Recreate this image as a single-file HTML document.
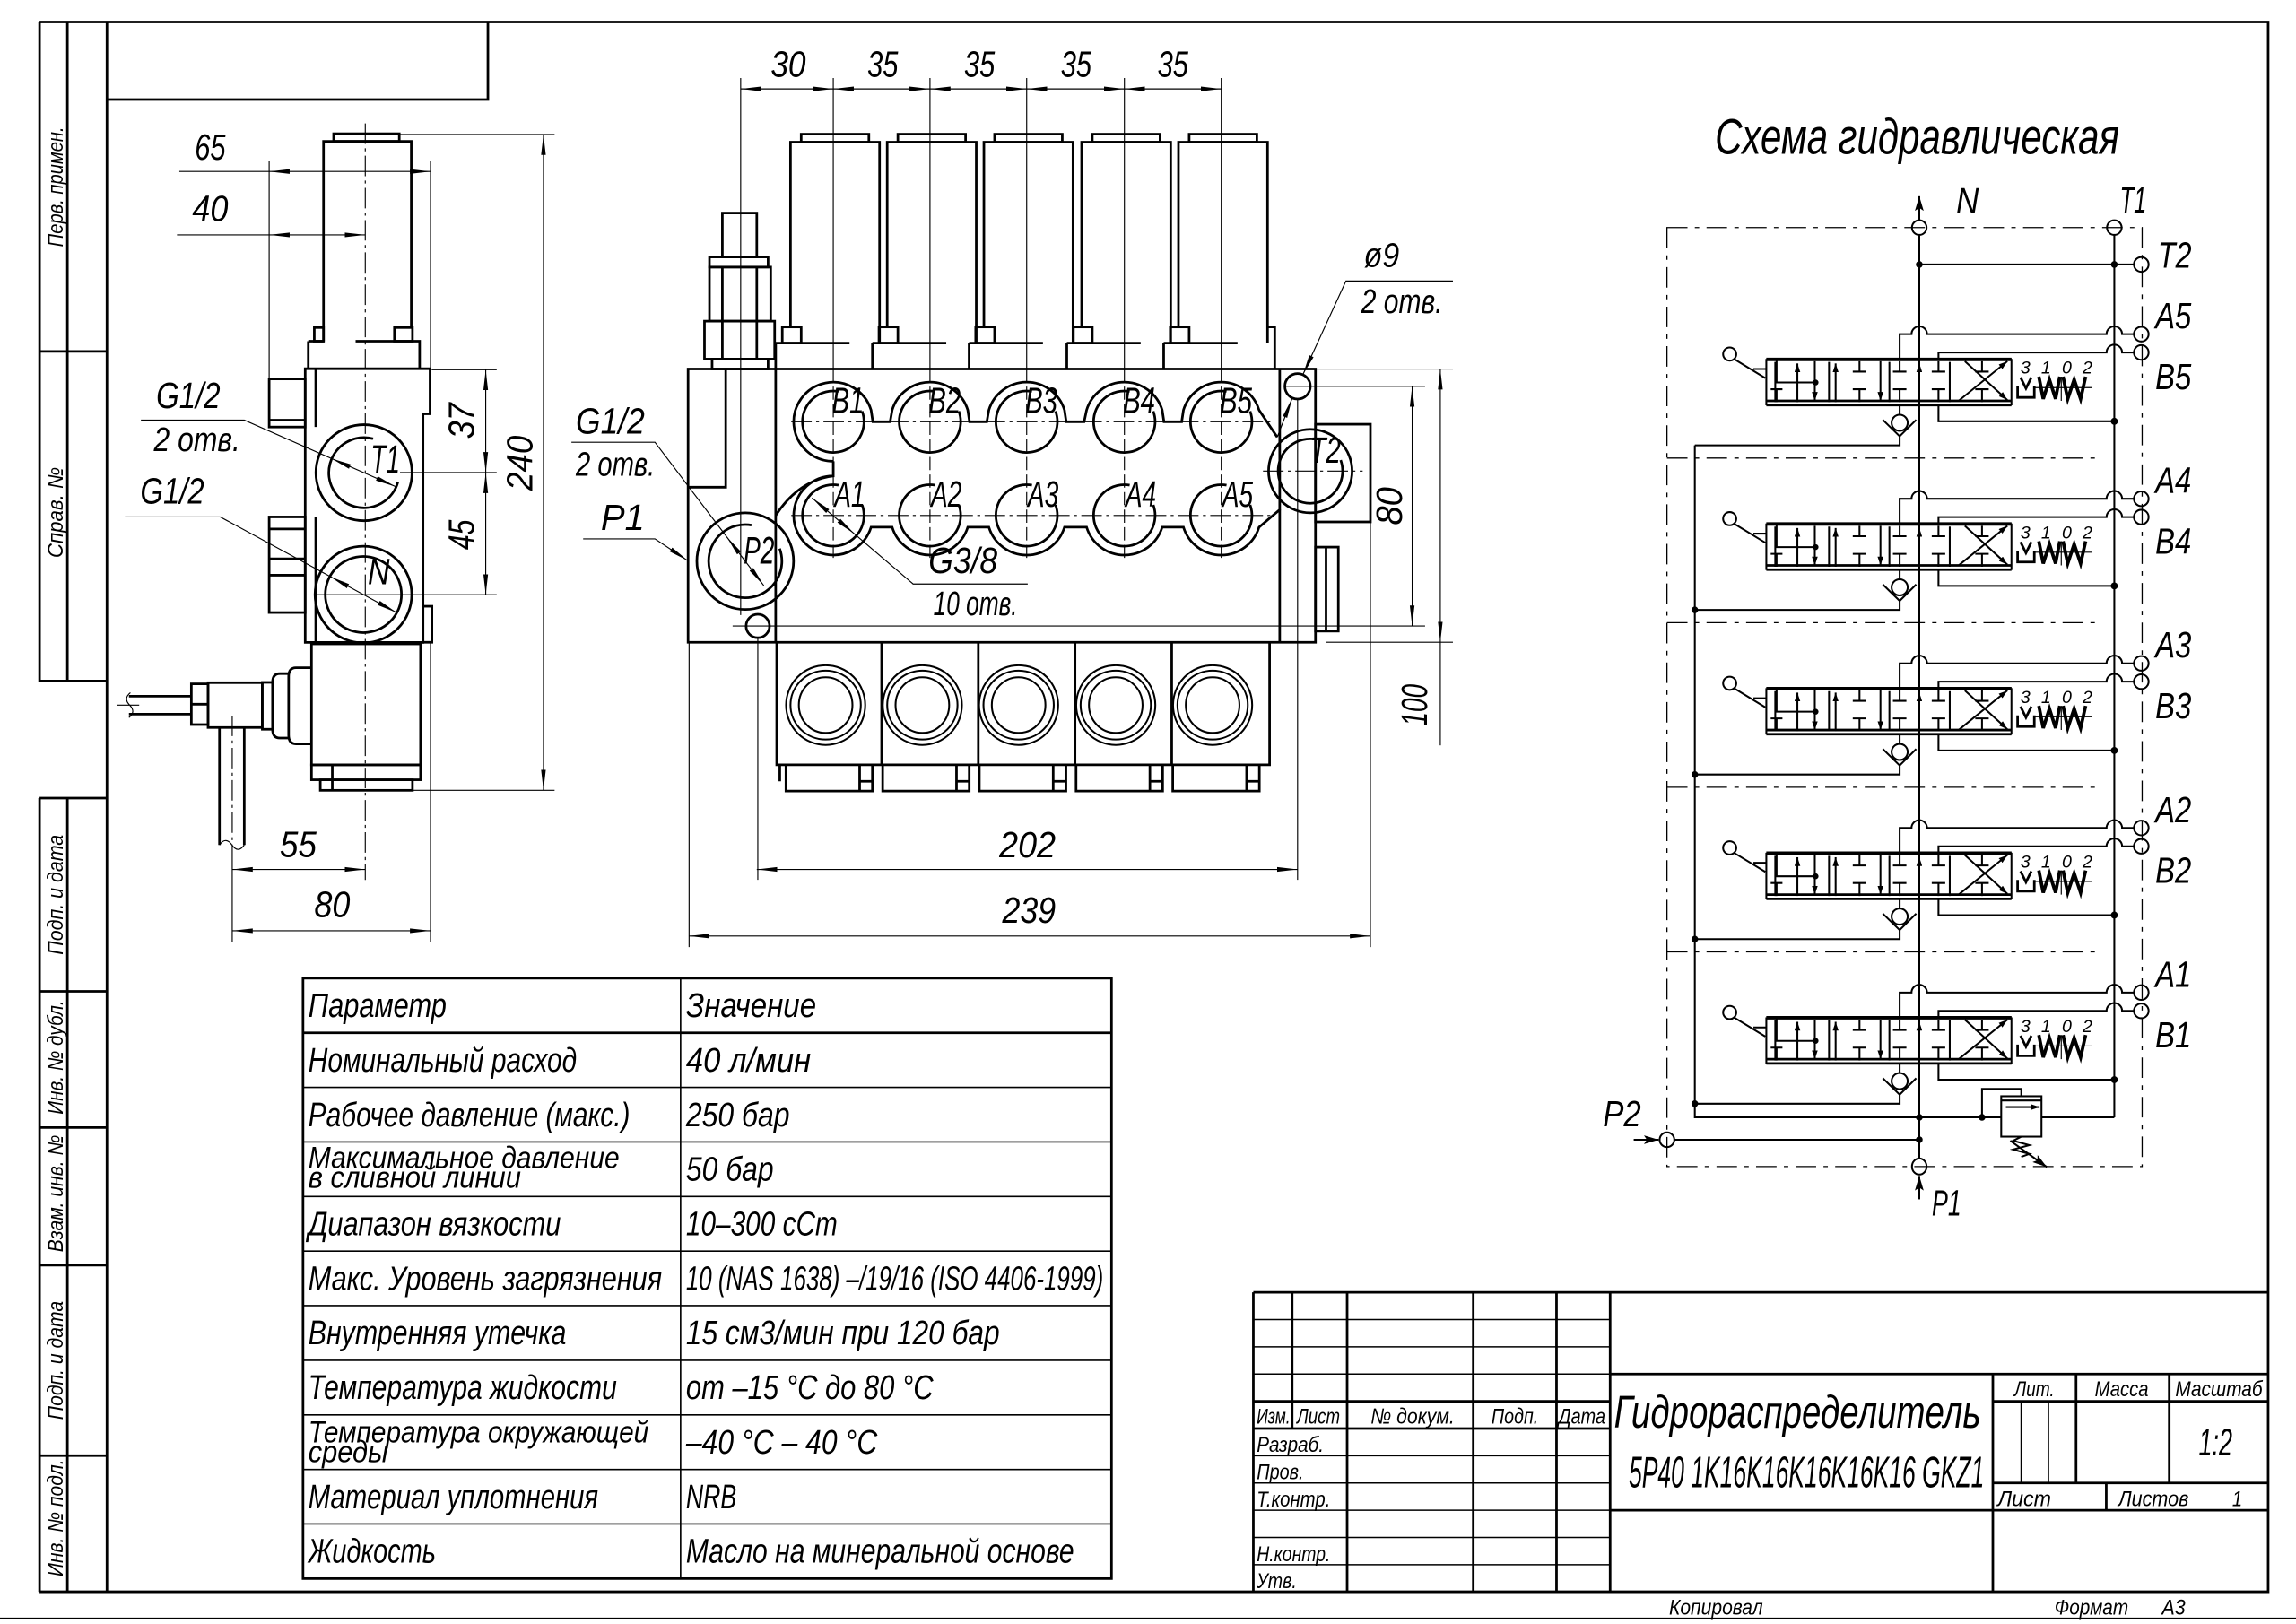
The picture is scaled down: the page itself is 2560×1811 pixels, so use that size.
<!DOCTYPE html>
<html><head><meta charset="utf-8"><style>
html,body{margin:0;padding:0;background:#fff;}
svg{display:block;}
.k{stroke:#000;stroke-width:1.7;fill:none;}
.m{stroke:#000;stroke-width:1.25;fill:none;}
.t{stroke:#000;stroke-width:0.7;fill:none;}
.d{stroke:#000;stroke-width:0.7;fill:none;stroke-dasharray:14 3 2 3;}
.ds{stroke:#000;stroke-width:0.8;fill:none;stroke-dasharray:14 5 3 5;}
.f{fill:#000;stroke:none;}
text{font-family:"Liberation Sans","DejaVu Sans",sans-serif;font-style:italic;fill:#000;stroke:none;}
</style></head><body>
<svg width="2560" height="1811" viewBox="0 0 1567 1109" preserveAspectRatio="none" xmlns="http://www.w3.org/2000/svg">
<defs>
<marker id="ar" viewBox="0 0 14 4" refX="14" refY="2" markerWidth="14" markerHeight="4" markerUnits="userSpaceOnUse" orient="auto-start-reverse"><path d="M0,0.4 L14,2 L0,3.6z" fill="#000"/></marker>
<marker id="sa" viewBox="0 0 6 4" refX="6" refY="2" markerWidth="6" markerHeight="4" markerUnits="userSpaceOnUse" orient="auto"><path d="M0,0 L6,2 L0,4z" fill="#000"/></marker>
<marker id="ba" viewBox="0 0 10 6" refX="10" refY="3" markerWidth="10" markerHeight="6" markerUnits="userSpaceOnUse" orient="auto"><path d="M0,0 L10,3 L0,6 L2,3z" fill="#000"/></marker>
<g id="sec">
  <path class="m" d="M1296.5,16.9 V0 H1304.6 A5.3,5.3 0 0 1 1315.2,0 H1437.7 A5.3,5.3 0 0 1 1448.3,0 H1456.4"/>
  <circle class="m" cx="1461.4" cy="0" r="5" fill="#fff"/>
  <path class="m" d="M1323,16.9 V12.5 H1437.7 A5.3,5.3 0 0 1 1448.3,12.5 H1456.4"/>
  <circle class="m" cx="1461.4" cy="12.5" r="5" fill="#fff"/>
  <path class="k" d="M1205.5,16.9 H1372.8 M1205.5,45.5 H1372.8 M1205.5,48.4 H1372.8"/>
  <path class="k" style="stroke-width:2.2" d="M1205.5,17.3 H1372.8"/>
  <path class="m" d="M1205.5,16.9 V48.6 M1211.6,19 V46.4 M1248.3,19 V46.4 M1289.5,19 V46.4 M1330.7,19 V46.4 M1372.8,16.9 V48.6"/>
  <path class="m" d="M1212.5,18 V33 H1239.1"/>
  <circle class="f" cx="1239.1" cy="33" r="2"/>
  <path class="m" d="M1226.7,46.4 V20" marker-end="url(#sa)"/>
  <path class="m" d="M1238.6,18.5 V45.5" marker-end="url(#sa)"/>
  <path class="m" d="M1208.5,37.6 H1216.5 M1212.5,37.6 V46.4"/>
  <path class="m" d="M1252.8,46.4 V20" marker-end="url(#sa)"/>
  <path class="m" d="M1269.1,18.5 V25.6 M1264.5,25.6 H1273.7 M1264.5,37.6 H1273.7 M1269.1,37.6 V46.4"/>
  <path class="m" d="M1283.4,18.5 V45.5" marker-end="url(#sa)"/>
  <path class="m" d="M1296.5,18.5 V25.6 M1291.9,25.6 H1301.1 M1291.9,37.6 H1301.1 M1296.5,37.6 V46.4"/>
  <path class="m" d="M1323,18.5 V25.6 M1318.4,25.6 H1327.6 M1318.4,37.6 H1327.6 M1323,37.6 V46.4"/>
  <path class="m" d="M1309.9,46.4 V20" marker-end="url(#sa)"/>
  <path class="m" d="M1352.7,18.5 V25.6 M1348.1,25.6 H1357.3 M1348.1,37.6 H1357.3 M1352.7,37.6 V46.4"/>
  <path class="m" d="M1337,45.3 L1370,18.5" marker-end="url(#sa)"/>
  <path class="m" d="M1341,18.5 L1370,45" marker-end="url(#sa)"/>
  <text x="1379" y="27" font-size="12" textLength="49" lengthAdjust="spacing">3  1  0  2</text>
  <path class="k" d="M1377,35.5 V43.2 H1388.4 V35.5"/>
  <path class="k" d="M1379,29.5 L1382.7,37 L1386.4,29.5"/>
  <path class="k" style="stroke-width:2.3" d="M1391.5,29 L1394.5,44.2 L1398.7,31 L1402.9,44.2 L1405.8,29 M1408,29 L1411.2,44.2 L1415.6,31 L1420,44.2 L1423.4,29"/>
  <path class="t" d="M1406.8,29 V45.5 M1389,36.5 H1428"/>
  <circle class="m" cx="1180.5" cy="13.6" r="4.5" fill="#fff"/>
  <path class="m" d="M1183.5,17 L1204.8,30 M1196.7,23.8 H1205.5"/>
  <path class="m" d="M1296.5,48.6 V55"/>
  <circle class="m" cx="1296.5" cy="60.5" r="5.5"/>
  <path class="m" d="M1285,58.5 L1296.5,69.7 L1307.8,58.5"/>
  <path class="m" d="M1296.5,69.5 V75.9 H1156.7"/>
  <path class="m" d="M1323,48.6 V59.5 H1443"/>
  <circle class="f" cx="1443" cy="59.5" r="2.4"/>
</g>
</defs>

<!-- FRAME -->
<path class="k" d="M27,15 H1548 V1087 H27 M73,15 V1087"/>
<path class="k" d="M27,15 V465 H73 M46,15 V465 M27,240 H73"/>
<path class="k" d="M27,545 H73 M27,545 V1087 M46,545 V1087 M27,677 H73 M27,770 H73 M27,864 H73 M27,994 H73"/>
<path class="k" d="M73,68 H333 V15"/>
<path class="t" d="M0,1105 H1567"/>
<text transform="translate(43,127.6) rotate(-90)" text-anchor="middle" font-size="15" textLength="82" lengthAdjust="spacingAndGlyphs">Перв. примен.</text>
<text transform="translate(43,350) rotate(-90)" text-anchor="middle" font-size="15" textLength="62" lengthAdjust="spacingAndGlyphs">Справ. №</text>
<text transform="translate(43,611) rotate(-90)" text-anchor="middle" font-size="15" textLength="82" lengthAdjust="spacingAndGlyphs">Подп. и дата</text>
<text transform="translate(43,722) rotate(-90)" text-anchor="middle" font-size="15" textLength="78" lengthAdjust="spacingAndGlyphs">Инв. № дубл.</text>
<text transform="translate(43,815) rotate(-90)" text-anchor="middle" font-size="15" textLength="80" lengthAdjust="spacingAndGlyphs">Взам. инв. №</text>
<text transform="translate(43,929) rotate(-90)" text-anchor="middle" font-size="15" textLength="81" lengthAdjust="spacingAndGlyphs">Подп. и дата</text>
<text transform="translate(43,1036.6) rotate(-90)" text-anchor="middle" font-size="15" textLength="80" lengthAdjust="spacingAndGlyphs">Инв. № подл.</text>

<!-- SIDE VIEW -->
<path class="d" d="M249.3,84.3 V600.9"/>
<rect class="k" x="227.7" y="91.3" width="44.8" height="5.2"/>
<path class="k" d="M220.8,233 V96.5 H280.7 V223.7"/>
<rect class="k" x="214.5" y="223.7" width="6.3" height="9.3"/>
<rect class="k" x="269.2" y="223.7" width="12.3" height="9.3"/>
<path class="k" d="M210.4,233 H220.8 M242.7,233 H286.4 V251.8 M210.4,233 V251.8"/>
<path class="k" d="M208.3,438.7 V251.8 H293.5 V282.6 H288.7 V438.7 Z"/>
<rect class="k" x="288.7" y="414" width="6.1" height="24.6"/>
<path class="k" d="M215.5,251.8 V291.6 M215.5,353 V438.7"/>
<rect class="k" x="183.7" y="258.8" width="24.6" height="32.8"/>
<path class="k" d="M183.7,286.9 H208.3"/>
<rect class="k" x="183.7" y="353" width="24.6" height="65.3"/>
<path class="k" d="M183.7,361.2 H208.3 M183.7,381.6 H208.3 M183.7,392.8 H208.3"/>
<circle class="k" cx="248.4" cy="322.8" r="32.8"/>
<path class="k" d="M271.6,329 A24,24 0 1 1 254.6,299.6"/>
<circle class="k" cx="248" cy="406" r="33"/>
<circle class="k" cx="248" cy="406" r="26"/>
<path class="t" d="M216,406.1 H339 M273,322.7 H339 M294.6,252.5 H339"/>
<rect class="k" x="212.6" y="439.7" width="74.4" height="82.6"/>
<rect class="k" x="212.6" y="522.3" width="74.4" height="10.2"/>
<rect class="k" x="218.6" y="532.5" width="62.9" height="7.2"/>
<path class="k" d="M226.8,522.3 V539.7"/>
<path class="k" d="M212.6,456 H202 Q197,456 197,462 V502 Q197,508 202,508 H212.6"/>
<path class="k" d="M197,460 H191 Q186,460 186,466 V498 Q186,504 191,504 H197"/>
<rect class="k" x="179" y="466" width="7" height="32"/>
<rect class="k" x="142" y="466.2" width="37" height="30.6"/>
<rect class="k" x="130.6" y="467" width="11.4" height="27.8"/>
<path class="k" d="M130.6,480.9 H142"/>
<path class="k" d="M88,475.4 H130.6 M88,487.7 H130.6"/>
<path class="t" d="M89,473 Q84,477 88.5,481.5 Q93,486 88,490 M80,481.5 H95"/>
<path class="k" d="M149.8,496.8 V577 M166.7,496.8 V577"/>
<path class="t" d="M149.8,577 Q154,571 158.3,577 Q162.5,583 166.7,577"/>
<path class="d" d="M158.5,488.7 V577"/>
<path class="t" d="M158.5,577 V643 M293.8,438.7 V643"/>
<!-- side dims -->
<path class="t" d="M183.7,109.6 V258.8 M293.8,109.6 V251.8"/>
<path class="t" d="M122.4,117.1 H184"/>
<path class="t" d="M183.7,117.1 H293.8" marker-start="url(#ar)" marker-end="url(#ar)"/>
<path class="t" d="M120.8,160.4 H184"/>
<path class="t" d="M183.7,160.4 H249.3" marker-start="url(#ar)" marker-end="url(#ar)"/>
<path class="t" d="M331.5,252.5 V322.7" marker-start="url(#ar)" marker-end="url(#ar)"/>
<path class="t" d="M331.5,322.7 V406.1" marker-start="url(#ar)" marker-end="url(#ar)"/>
<path class="t" d="M272.5,91.8 H378.5 M281.5,539.7 H378.5"/>
<path class="t" d="M370.9,91.8 V539.7" marker-start="url(#ar)" marker-end="url(#ar)"/>
<path class="t" d="M158.5,593.7 H249.3" marker-start="url(#ar)" marker-end="url(#ar)"/>
<path class="t" d="M158.5,635.6 H293.8" marker-start="url(#ar)" marker-end="url(#ar)"/>
<path class="t" d="M96.2,286.9 H166.7 L226,313"/>
<path class="t" d="M226,313 L270,332.3" marker-start="url(#ar)" marker-end="url(#ar)"/>
<path class="t" d="M85.3,353 H150.3 L225.2,393.6"/>
<path class="t" d="M225.2,393.6 L270.8,418.4" marker-start="url(#ar)" marker-end="url(#ar)"/>
<text x="133" y="109" font-size="25" textLength="21" lengthAdjust="spacingAndGlyphs">65</text>
<text x="131.2" y="151" font-size="25" textLength="24.6" lengthAdjust="spacingAndGlyphs">40</text>
<text x="106.6" y="278.7" font-size="25" textLength="43.7" lengthAdjust="spacingAndGlyphs">G1/2</text>
<text x="105" y="308" font-size="23" textLength="59" lengthAdjust="spacingAndGlyphs">2 отв.</text>
<text x="95.7" y="344" font-size="25" textLength="43.7" lengthAdjust="spacingAndGlyphs">G1/2</text>
<text x="253" y="323" font-size="27" textLength="20" lengthAdjust="spacingAndGlyphs">T1</text>
<text x="251" y="399" font-size="25" textLength="15" lengthAdjust="spacingAndGlyphs">N</text>
<text transform="translate(323.5,287.4) rotate(-90)" text-anchor="middle" font-size="25" textLength="24.6" lengthAdjust="spacingAndGlyphs">37</text>
<text transform="translate(323.5,365.2) rotate(-90)" text-anchor="middle" font-size="25" textLength="20.5" lengthAdjust="spacingAndGlyphs">45</text>
<text transform="translate(363.3,316.2) rotate(-90)" text-anchor="middle" font-size="25" textLength="37.5" lengthAdjust="spacingAndGlyphs">240</text>
<text x="191" y="585" font-size="25" textLength="25" lengthAdjust="spacingAndGlyphs">55</text>
<text x="214.5" y="626" font-size="25" textLength="24.5" lengthAdjust="spacingAndGlyphs">80</text>

<!-- FRONT VIEW -->
<path class="t" d="M505.5,53.3 V420 M568.7,53.3 V252 M634.7,53.3 V252 M700.7,53.3 V252 M767.4,53.3 V252 M833.5,53.3 V252"/>
<path class="t" style="stroke-dasharray:9 3" d="M568.7,252 V382 M634.7,252 V382 M700.7,252 V382 M767.4,252 V382 M833.5,252 V382"/>
<path class="t" d="M505.5,60.7 H568.7" marker-start="url(#ar)" marker-end="url(#ar)"/>
<path class="t" d="M568.7,60.7 H634.7" marker-start="url(#ar)" marker-end="url(#ar)"/>
<path class="t" d="M634.7,60.7 H700.7" marker-start="url(#ar)" marker-end="url(#ar)"/>
<path class="t" d="M700.7,60.7 H767.4" marker-start="url(#ar)" marker-end="url(#ar)"/>
<path class="t" d="M767.4,60.7 H833.5" marker-start="url(#ar)" marker-end="url(#ar)"/>
<text x="526" y="52.5" font-size="25" textLength="24" lengthAdjust="spacingAndGlyphs">30</text>
<text x="592" y="52.5" font-size="25" textLength="21" lengthAdjust="spacingAndGlyphs">35</text>
<text x="658" y="52.5" font-size="25" textLength="21" lengthAdjust="spacingAndGlyphs">35</text>
<text x="724" y="52.5" font-size="25" textLength="21" lengthAdjust="spacingAndGlyphs">35</text>
<text x="790" y="52.5" font-size="25" textLength="21" lengthAdjust="spacingAndGlyphs">35</text>
<g id="coil">
<rect class="k" x="546.8" y="91.6" width="46.2" height="5.5"/>
<path class="k" d="M539.5,223.3 V97.1 H600.3 V234.3"/>
<rect class="k" x="533.9" y="223.3" width="12.9" height="11"/>
<path class="k" d="M529.4,234.3 H579.8 M529.4,234.3 V252"/>
</g>
<use href="#coil" transform="translate(66,0)"/>
<use href="#coil" transform="translate(132,0)"/>
<use href="#coil" transform="translate(198.7,0)"/>
<use href="#coil" transform="translate(264.8,0)"/>
<path class="k" d="M864.7,223.3 H870 V252"/>
<rect class="k" x="493" y="145.5" width="23.5" height="30"/>
<rect class="k" x="484.2" y="175.5" width="40" height="6.9"/>
<rect class="k" x="484.2" y="182.4" width="41.8" height="36.9"/>
<path class="k" d="M493,182.4 V219.3 M516.5,182.4 V219.3"/>
<rect class="k" x="480.8" y="219.3" width="47.9" height="25.9"/>
<path class="k" d="M493,219.3 V245.2 M516.5,219.3 V245.2"/>
<rect class="k" x="486" y="245.2" width="38.2" height="6.8"/>
<path class="k" d="M469.6,252 H897.8 V438.6 H469.6 Z"/>
<path class="k" d="M529.4,252 V438.6 M873.4,252 V438.6 M495.3,252 V332.7 H469.6"/>
<rect class="k" x="897.8" y="289.7" width="37.5" height="66.7"/>
<rect class="k" x="897.8" y="373.6" width="15.6" height="57.4"/>
<path class="k" d="M905,373.6 V431"/>
<path class="k" d="M568.7,315 A27,27 0 1 1 594.5,280 L595.7,288 L607.5,288 L608.9,280 A27,27 0 0 1 660.5,280 L661.7,288 L673.5,288 L674.9,280 A27,27 0 0 1 726.5,280 L727.7,288 L739.9,288 L741.6,280 A27,27 0 0 1 793.2,280 L794.4,288 L806.5,288 L807.7,280 A27,27 0 0 1 859.3,280 L871.7,298.5"/>
<path class="k" d="M568.7,315 V325 A27,27 0 1 0 594.5,360 L608.9,360 A27,27 0 0 0 660.5,360 L674.9,360 A27,27 0 0 0 726.5,360 L741.6,360 A27,27 0 0 0 793.2,360 L807.7,360 A27,27 0 0 0 859.3,360 L873.8,347.7"/>
<path class="k" d="M568.7,325 Q545,328 529.4,352"/>
<g id="ports">
<path class="k" d="M588.4,280.8 A21,21 0 1 1 572.3,267.3"/>
<path class="k" d="M588.4,344.8 A21,21 0 1 1 572.3,331.3"/>
</g>
<use href="#ports" transform="translate(66,0)"/>
<use href="#ports" transform="translate(132,0)"/>
<use href="#ports" transform="translate(198.7,0)"/>
<use href="#ports" transform="translate(264.8,0)"/>
<path class="d" d="M540,288 H868 M540,352 H868 M862,321.7 H930"/>
<circle class="k" cx="894.3" cy="321.7" r="28.5"/>
<path class="k" d="M915,314.2 A22,22 0 1 1 898.1,300"/>
<circle class="k" cx="508.6" cy="383.2" r="33"/>
<path class="k" d="M532.1,374.6 A25,25 0 1 1 512.9,358.6"/>
<circle class="k" cx="885.6" cy="263.8" r="8.7"/>
<circle class="k" cx="517.2" cy="427.5" r="8"/>
<path class="k" d="M530.1,438.6 V522.3 H866.5 V438.6 M601.7,438.6 V522.3 M667.7,438.6 V522.3 M733.7,438.6 V522.3 M799.7,438.6 V522.3"/>
<g id="conn">
<ellipse class="m" cx="563.5" cy="481.5" rx="27" ry="27.2"/>
<ellipse class="m" cx="563.5" cy="481.5" rx="24" ry="23.5"/>
<ellipse class="m" cx="563.5" cy="481.5" rx="18.3" ry="19"/>
</g>
<use href="#conn" transform="translate(66,0)"/>
<use href="#conn" transform="translate(131.7,0)"/>
<use href="#conn" transform="translate(198,0)"/>
<use href="#conn" transform="translate(264.1,0)"/>
<path class="k" d="M536.4,522.3 V540.2 H595.4 V522.3 M586.7,522.3 V540.2 M586.7,533.5 H595.4 M532.2,522.3 V533.5"/>
<g id="ub"><path class="k" d="M602.4,522.3 V540.2 H661.5 V522.3 M652.8,522.3 V540.2 M652.8,533.5 H661.5"/></g>
<use href="#ub" transform="translate(66,0)"/>
<use href="#ub" transform="translate(132,0)"/>
<use href="#ub" transform="translate(198,0)"/>
<path class="t" d="M517.2,436 V600.8 M885.6,272 V600.8 M470.3,439 V646.7 M935.3,356.4 V646.7"/>
<path class="t" d="M516.5,593.7 H885.6" marker-start="url(#ar)" marker-end="url(#ar)"/>
<path class="t" d="M470.3,639.2 H935.3" marker-start="url(#ar)" marker-end="url(#ar)"/>
<path class="t" d="M877,263.8 H972.6 M500,427.5 H972.6 M897.8,252 H991.6 M904.7,438.6 H991.6"/>
<path class="t" d="M963.8,263.8 V427.5" marker-start="url(#ar)" marker-end="url(#ar)"/>
<path class="t" d="M983,252 V438.6" marker-start="url(#ar)" marker-end="url(#ar)"/>
<path class="t" d="M983,438.6 V509"/>
<path class="t" d="M390,302 H447 L495.9,366.5"/>
<path class="t" d="M495.9,366.5 L521.3,399.9" marker-start="url(#ar)" marker-end="url(#ar)"/>
<path class="t" d="M398,368 H447 L469.6,383" marker-end="url(#ar)"/>
<path class="t" d="M701.4,398.8 H623.2 L583.2,364.6"/>
<path class="t" d="M554.2,340 L583.2,364.6" marker-start="url(#ar)" marker-end="url(#ar)"/>
<path class="t" d="M991.6,191.9 H918.6 L889.2,255.9" marker-end="url(#ar)"/>
<path class="t" d="M871.7,298.5 L882,271.7" marker-end="url(#ar)"/>
<text x="567.7" y="282" font-size="25" textLength="22" lengthAdjust="spacingAndGlyphs">B1</text>
<text x="633.7" y="282" font-size="25" textLength="22" lengthAdjust="spacingAndGlyphs">B2</text>
<text x="699.7" y="282" font-size="25" textLength="22" lengthAdjust="spacingAndGlyphs">B3</text>
<text x="766.4" y="282" font-size="25" textLength="22" lengthAdjust="spacingAndGlyphs">B4</text>
<text x="832.5" y="282" font-size="25" textLength="22" lengthAdjust="spacingAndGlyphs">B5</text>
<text x="569.4" y="346" font-size="25" textLength="21" lengthAdjust="spacingAndGlyphs">A1</text>
<text x="635.4" y="346" font-size="25" textLength="21" lengthAdjust="spacingAndGlyphs">A2</text>
<text x="701.4" y="346" font-size="25" textLength="21" lengthAdjust="spacingAndGlyphs">A3</text>
<text x="768.1" y="346" font-size="25" textLength="21" lengthAdjust="spacingAndGlyphs">A4</text>
<text x="834.2" y="346" font-size="25" textLength="21" lengthAdjust="spacingAndGlyphs">A5</text>
<text x="894" y="316" font-size="25" textLength="21" lengthAdjust="spacingAndGlyphs">T2</text>
<text x="507.5" y="385" font-size="26" textLength="21" lengthAdjust="spacingAndGlyphs">P2</text>
<text x="393" y="296" font-size="25" textLength="47" lengthAdjust="spacingAndGlyphs">G1/2</text>
<text x="393" y="325" font-size="23" textLength="54" lengthAdjust="spacingAndGlyphs">2 отв.</text>
<text x="410" y="362" font-size="25" textLength="30" lengthAdjust="spacingAndGlyphs">P1</text>
<text x="633.7" y="391.4" font-size="25" textLength="47" lengthAdjust="spacingAndGlyphs">G3/8</text>
<text x="637" y="420" font-size="23" textLength="57.5" lengthAdjust="spacingAndGlyphs">10 отв.</text>
<text x="930.8" y="182.3" font-size="23" textLength="24.2" lengthAdjust="spacingAndGlyphs">ø9</text>
<text x="929" y="213.8" font-size="23" textLength="55.6" lengthAdjust="spacingAndGlyphs">2 отв.</text>
<text transform="translate(956.6,345.6) rotate(-90)" text-anchor="middle" font-size="25" textLength="26" lengthAdjust="spacingAndGlyphs">80</text>
<text transform="translate(974,481.5) rotate(-90)" text-anchor="middle" font-size="25" textLength="28.6" lengthAdjust="spacingAndGlyphs">100</text>
<text x="682" y="585.5" font-size="25" textLength="38.5" lengthAdjust="spacingAndGlyphs">202</text>
<text x="684" y="630" font-size="25" textLength="36.5" lengthAdjust="spacingAndGlyphs">239</text>

<!-- HYDRAULIC SCHEME -->
<text x="1170.4" y="105" font-size="34" textLength="276" lengthAdjust="spacingAndGlyphs">Схема гидравлическая</text>
<path class="ds" d="M1137.7,155.4 H1462 V796.6 H1137.7 Z"/>
<path class="ds" d="M1137.7,312.8 H1431.4 M1137.7,425.2 H1431.4 M1137.7,537.6 H1431.4 M1137.7,650 H1431.4"/>
<use href="#sec" transform="translate(0,228.2)"/>
<use href="#sec" transform="translate(0,340.6)"/>
<use href="#sec" transform="translate(0,453)"/>
<use href="#sec" transform="translate(0,565.4)"/>
<use href="#sec" transform="translate(0,677.8)"/>
<path class="m" d="M1309.9,145 V150.4 M1309.9,160.4 V791.6"/>
<path class="m" d="M1309.9,147 V134" marker-end="url(#ba)"/>
<path class="m" d="M1443,160.4 V763"/>
<circle class="m" cx="1309.9" cy="155.4" r="5" fill="#fff"/>
<circle class="m" cx="1443" cy="155.4" r="5" fill="#fff"/>
<path class="m" d="M1309.9,180.6 H1456.4"/>
<circle class="m" cx="1461.4" cy="180.6" r="5" fill="#fff"/>
<circle class="f" cx="1309.9" cy="180.6" r="2.3"/>
<circle class="f" cx="1443" cy="180.6" r="2.3"/>
<path class="m" d="M1156.7,304.1 V763 H1365.8 M1393.3,763 H1443"/>
<circle class="f" cx="1156.7" cy="416.5" r="2.3"/>
<circle class="f" cx="1156.7" cy="528.9" r="2.3"/>
<circle class="f" cx="1156.7" cy="641.3" r="2.3"/>
<circle class="f" cx="1156.7" cy="753.7" r="2.3"/>
<circle class="f" cx="1309.9" cy="763" r="2.3"/>
<circle class="f" cx="1352.7" cy="763" r="2.3"/>
<rect class="m" x="1365.8" y="748.6" width="27.5" height="27.6"/>
<path class="m" d="M1365.8,751.5 H1393.3"/>
<path class="m" d="M1369,756 H1392" marker-end="url(#sa)"/>
<path class="m" d="M1352.7,763 V743.6 H1379.5 V748.6"/>
<path class="m" d="M1379.5,776.2 L1374,779 L1385,782 L1374,785 L1385,788 L1379.5,790"/>
<path class="m" d="M1372,779 L1397,797" marker-end="url(#ba)"/>
<circle class="m" cx="1137.7" cy="778.3" r="5" fill="#fff"/>
<path class="m" d="M1142.7,778.3 H1309.9"/>
<circle class="f" cx="1309.9" cy="778.3" r="2.3"/>
<path class="m" d="M1115,778.3 H1132" marker-end="url(#ba)"/>
<ellipse class="m" cx="1309.9" cy="796.6" rx="5" ry="5.5" fill="#fff"/>
<path class="m" d="M1309.9,819 V803" marker-end="url(#ba)"/>
<text x="1335" y="145.6" font-size="25" textLength="15.5" lengthAdjust="spacingAndGlyphs">N</text>
<text x="1446.7" y="145" font-size="25" textLength="18.3" lengthAdjust="spacingAndGlyphs">T1</text>
<text x="1472.7" y="182.8" font-size="25" textLength="23" lengthAdjust="spacingAndGlyphs">T2</text>
<text x="1471" y="224.2" font-size="25" textLength="24.6" lengthAdjust="spacingAndGlyphs">A5</text>
<text x="1471" y="265.8" font-size="25" textLength="24.6" lengthAdjust="spacingAndGlyphs">B5</text>
<text x="1471" y="336.6" font-size="25" textLength="24.6" lengthAdjust="spacingAndGlyphs">A4</text>
<text x="1471" y="378.2" font-size="25" textLength="24.6" lengthAdjust="spacingAndGlyphs">B4</text>
<text x="1471" y="449" font-size="25" textLength="24.6" lengthAdjust="spacingAndGlyphs">A3</text>
<text x="1471" y="490.6" font-size="25" textLength="24.6" lengthAdjust="spacingAndGlyphs">B3</text>
<text x="1471" y="561.4" font-size="25" textLength="24.6" lengthAdjust="spacingAndGlyphs">A2</text>
<text x="1471" y="603" font-size="25" textLength="24.6" lengthAdjust="spacingAndGlyphs">B2</text>
<text x="1471" y="673.8" font-size="25" textLength="24.6" lengthAdjust="spacingAndGlyphs">A1</text>
<text x="1471" y="715.4" font-size="25" textLength="24.6" lengthAdjust="spacingAndGlyphs">B1</text>
<text x="1094" y="769" font-size="25" textLength="26" lengthAdjust="spacingAndGlyphs">P2</text>
<text x="1318.5" y="830" font-size="25" textLength="20" lengthAdjust="spacingAndGlyphs">P1</text>

<!-- TABLE -->
<rect class="k" x="206.8" y="668" width="551.8" height="410"/>
<path class="k" d="M206.8,705.3 H758.6"/>
<path class="t" style="stroke-width:1" d="M464.5,668 V1078 M206.8,742.5 H758.6 M206.8,779.8 H758.6 M206.8,817.1 H758.6 M206.8,854.4 H758.6 M206.8,891.6 H758.6 M206.8,928.9 H758.6 M206.8,966.2 H758.6 M206.8,1003.5 H758.6 M206.8,1040.7 H758.6"/>
<g font-size="23">
<text x="210.4" y="694.5" textLength="94.4" lengthAdjust="spacingAndGlyphs">Параметр</text>
<text x="468.2" y="694.5" textLength="88.9" lengthAdjust="spacingAndGlyphs">Значение</text>
<text x="210.4" y="731.8" textLength="183.3" lengthAdjust="spacingAndGlyphs">Номинальный расход</text>
<text x="468.2" y="731.8" textLength="85.3" lengthAdjust="spacingAndGlyphs">40 л/мин</text>
<text x="210.4" y="769" textLength="219.6" lengthAdjust="spacingAndGlyphs">Рабочее давление (макс.)</text>
<text x="468.2" y="769" textLength="70.8" lengthAdjust="spacingAndGlyphs">250 бар</text>
<text x="210.4" y="797.5" font-size="21" textLength="212.4" lengthAdjust="spacingAndGlyphs">Максимальное давление</text>
<text x="210.4" y="811" font-size="21" textLength="145.2" lengthAdjust="spacingAndGlyphs">в сливной линии</text>
<text x="468.2" y="806.3" textLength="59.8" lengthAdjust="spacingAndGlyphs">50 бар</text>
<text x="210.4" y="843.6" textLength="172.4" lengthAdjust="spacingAndGlyphs">Диапазон вязкости</text>
<text x="468.2" y="843.6" textLength="103.4" lengthAdjust="spacingAndGlyphs">10–300 сСт</text>
<text x="210.4" y="880.9" textLength="241.4" lengthAdjust="spacingAndGlyphs">Макс. Уровень загрязнения</text>
<text x="468.2" y="880.9" textLength="284.9" lengthAdjust="spacingAndGlyphs">10 (NAS 1638) –/19/16 (ISO 4406-1999)</text>
<text x="210.4" y="918.1" textLength="176.1" lengthAdjust="spacingAndGlyphs">Внутренняя утечка</text>
<text x="468.2" y="918.1" textLength="214.1" lengthAdjust="spacingAndGlyphs">15 см3/мин при 120 бар</text>
<text x="210.4" y="955.4" textLength="210.6" lengthAdjust="spacingAndGlyphs">Температура жидкости</text>
<text x="468.2" y="955.4" textLength="168.8" lengthAdjust="spacingAndGlyphs">от –15 °С до 80 °С</text>
<text x="210.4" y="985" font-size="21" textLength="232.3" lengthAdjust="spacingAndGlyphs">Температура окружающей</text>
<text x="210.4" y="998.6" font-size="21" textLength="54.5" lengthAdjust="spacingAndGlyphs">среды</text>
<text x="468.2" y="992.7" textLength="130.6" lengthAdjust="spacingAndGlyphs">–40 °С – 40 °С</text>
<text x="210.4" y="1030" textLength="197.9" lengthAdjust="spacingAndGlyphs">Материал уплотнения</text>
<text x="468.2" y="1030" textLength="34.4" lengthAdjust="spacingAndGlyphs">NRB</text>
<text x="210.4" y="1067.2" textLength="87.1" lengthAdjust="spacingAndGlyphs">Жидкость</text>
<text x="468.2" y="1067.2" textLength="264.9" lengthAdjust="spacingAndGlyphs">Масло на минеральной основе</text>
</g>

<!-- TITLE BLOCK -->
<path class="k" d="M855.4,882.5 H1548 M855.4,882.5 V1087"/>
<path class="k" d="M881.9,882.5 V975.5 M919.4,882.5 V1087 M1005.5,882.5 V1087 M1062.3,882.5 V1087 M1098.9,882.5 V1087"/>
<path class="t" style="stroke-width:0.9" d="M855.4,901.1 H1098.9 M855.4,919.7 H1098.9 M855.4,938.3 H1098.9 M855.4,994.1 H1098.9 M855.4,1012.7 H1098.9 M855.4,1031.3 H1098.9 M855.4,1049.9 H1098.9 M855.4,1068.5 H1098.9"/>
<path class="k" d="M855.4,956.9 H1098.9 M855.4,975.5 H1098.9"/>
<path class="k" d="M1098.9,938.3 H1548 M1098.9,1031.3 H1548 M1360.1,938.3 V1087 M1360.1,956.9 H1548 M1360.1,1012.7 H1548 M1416.9,938.3 V1012.7 M1480.5,938.3 V1012.7 M1437.5,1012.7 V1031.3"/>
<path class="t" style="stroke-width:0.9" d="M1379.4,956.9 V1012.7 M1398.1,956.9 V1012.7"/>
<g font-size="15">
<text x="857.7" y="972" textLength="22.9" lengthAdjust="spacingAndGlyphs">Изм.</text>
<text x="885.1" y="972" textLength="29.4" lengthAdjust="spacingAndGlyphs">Лист</text>
<text x="935.5" y="972" textLength="57.2" lengthAdjust="spacingAndGlyphs">№ докум.</text>
<text x="1017.9" y="972" textLength="32" lengthAdjust="spacingAndGlyphs">Подп.</text>
<text x="1063.6" y="972" textLength="32.1" lengthAdjust="spacingAndGlyphs">Дата</text>
<text x="857.7" y="991.5" textLength="45.8" lengthAdjust="spacingAndGlyphs">Разраб.</text>
<text x="857.7" y="1010" textLength="32" lengthAdjust="spacingAndGlyphs">Пров.</text>
<text x="857.7" y="1028.7" textLength="50.3" lengthAdjust="spacingAndGlyphs">Т.контр.</text>
<text x="857.7" y="1066" textLength="50.3" lengthAdjust="spacingAndGlyphs">Н.контр.</text>
<text x="857.7" y="1084.5" textLength="27.3" lengthAdjust="spacingAndGlyphs">Утв.</text>
<text x="1374.8" y="953.5" textLength="27.4" lengthAdjust="spacingAndGlyphs">Лит.</text>
<text x="1429.7" y="953.5" textLength="36.6" lengthAdjust="spacingAndGlyphs">Масса</text>
<text x="1484.6" y="953.5" textLength="59.5" lengthAdjust="spacingAndGlyphs">Масштаб</text>
<text x="1363.3" y="1028.5" textLength="36.6" lengthAdjust="spacingAndGlyphs">Лист</text>
<text x="1445.7" y="1028.5" textLength="48.1" lengthAdjust="spacingAndGlyphs">Листов</text>
<text x="1523.5" y="1028.5" textLength="6.9" lengthAdjust="spacingAndGlyphs">1</text>
<text x="1139.1" y="1102.5" textLength="64.1" lengthAdjust="spacingAndGlyphs">Копировал</text>
<text x="1402.2" y="1102.5" textLength="50.4" lengthAdjust="spacingAndGlyphs">Формат</text>
<text x="1475.5" y="1102.5" textLength="16" lengthAdjust="spacingAndGlyphs">А3</text>
</g>
<text x="1500.6" y="994" font-size="26" textLength="22.9" lengthAdjust="spacingAndGlyphs">1:2</text>
<text x="1101.6" y="975" font-size="31" textLength="250.3" lengthAdjust="spacingAndGlyphs">Гидрораспределитель</text>
<text x="1111.6" y="1015.7" font-size="30" textLength="242.6" lengthAdjust="spacingAndGlyphs">5P40 1K16K16K16K16K16 GKZ1</text>
</svg>
</body></html>
